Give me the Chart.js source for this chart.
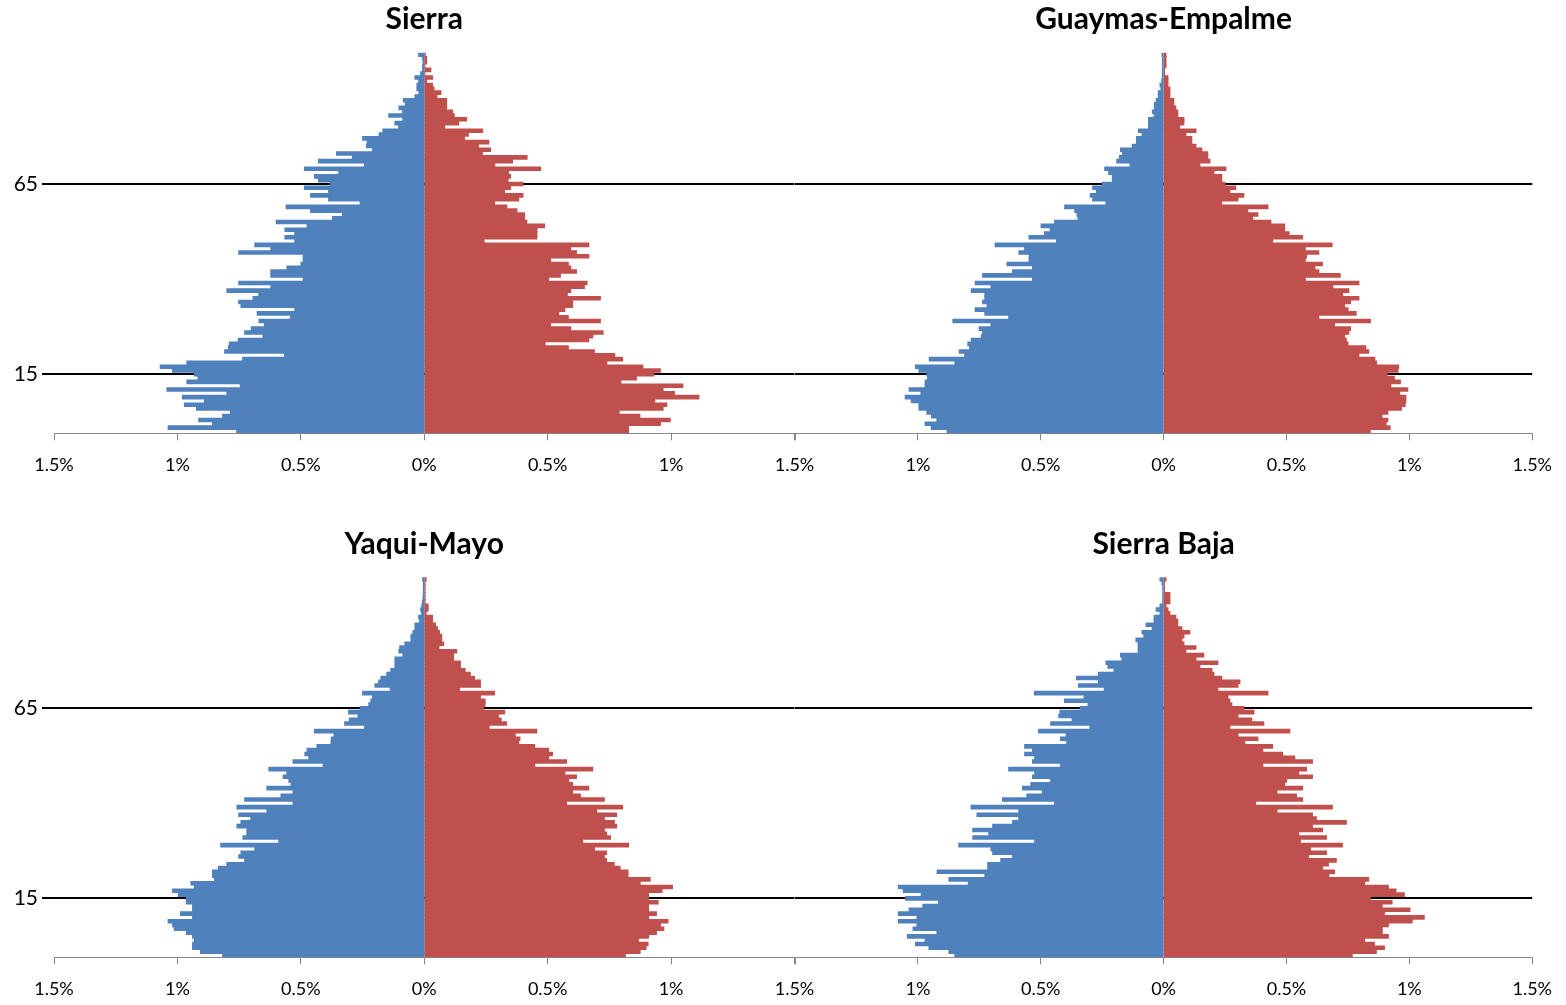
<!DOCTYPE html>
<html>
<head>
<meta charset="utf-8">
<title>Pirámides de población</title>
<script src="https://cdn.jsdelivr.net/npm/chart.js@4.4.1/dist/chart.umd.min.js"></script>
<style>
  html, body { margin: 0; padding: 0; background: #ffffff; }
  body { position: relative; width: 1566px; height: 1005px; overflow: hidden; }
  canvas { position: absolute; }
</style>
</head>
<body>
<canvas id="pSierra" width="830" height="484" style="left:0px;top:0px"></canvas>
<canvas id="pGuaymas" width="796" height="484" style="left:770px;top:0px"></canvas>
<canvas id="pYaqui" width="830" height="484" style="left:0px;top:524px"></canvas>
<canvas id="pSierraBaja" width="796" height="484" style="left:770px;top:524px"></canvas>
<script>
// Single-year age groups, 0 at the bottom of each pyramid
const ages = Array.from({ length: 100 }, (_, i) => i);
// Ages marked with a reference line and a tick label
const markedAges = [15, 65];
// Horizontal axis ticks (percent of total population)
const xTicks = [-1.5, -1, -0.5, 0, 0.5, 1, 1.5];

const titles = ['Sierra', 'Guaymas-Empalme', 'Yaqui-Mayo', 'Sierra Baja'];

// Percent of population by single age, ages 0..99
const sierraMale = [
  0.76, 1.038, 0.858, 0.914, 0.817, 0.786, 0.923, 0.972, 0.891, 0.98,
  0.8, 1.043, 0.746, 0.962, 0.917, 0.932, 1.02, 1.07, 0.962, 0.736,
  0.567, 0.809, 0.794, 0.79, 0.754, 0.654, 0.728, 0.701, 0.648, 0.67,
  0.542, 0.677, 0.525, 0.743, 0.752, 0.694, 0.671, 0.8, 0.622, 0.752,
  0.491, 0.622, 0.622, 0.557, 0.5, 0.491, 0.491, 0.752, 0.622, 0.687,
  0.525, 0.565, 0.525, 0.565, 0.475, 0.6, 0.372, 0.332, 0.461, 0.56,
  0.26, 0.388, 0.461, 0.388, 0.486, 0.38, 0.429, 0.445, 0.347, 0.486,
  0.243, 0.429, 0.292, 0.356, 0.21, 0.235, 0.232, 0.25, 0.183, 0.168,
  0.104, 0.119, 0.087, 0.144, 0.088, 0.103, 0.077, 0.085, 0.038, 0.022,
  0.03, 0.03, 0.023, 0.038, 0.015, 0.007, 0.007, 0.005, 0.007, 0.023
];
const sierraFemale = [
  0.828, 0.828, 0.957, 0.997, 0.874, 0.79, 0.968, 0.983, 0.934, 1.113,
  1.014, 0.968, 1.048, 0.797, 0.86, 0.93, 0.957, 0.886, 0.74, 0.804,
  0.772, 0.69, 0.584, 0.49, 0.667, 0.683, 0.725, 0.594, 0.512, 0.714,
  0.584, 0.545, 0.57, 0.601, 0.601, 0.714, 0.58, 0.594, 0.649, 0.66,
  0.504, 0.552, 0.617, 0.594, 0.584, 0.512, 0.667, 0.617, 0.594, 0.667,
  0.243, 0.457, 0.457, 0.457, 0.488, 0.416, 0.407, 0.407, 0.376, 0.335,
  0.285, 0.383, 0.4, 0.326, 0.35, 0.4, 0.34, 0.35, 0.342, 0.472,
  0.286, 0.358, 0.417, 0.236, 0.269, 0.22, 0.262, 0.163, 0.179, 0.237,
  0.083, 0.14, 0.172, 0.122, 0.115, 0.091, 0.091, 0.091, 0.052, 0.068,
  0.04, 0.034, 0.01, 0.034, 0.003, 0.027, 0.003, 0.01, 0.01, 0.005
];
const guaymasMale = [
  0.881, 0.946, 0.971, 0.923, 0.945, 0.964, 0.996, 0.996, 1.027, 1.052,
  0.988, 1.036, 0.971, 0.971, 0.961, 0.964, 0.996, 1.01, 0.85, 0.954,
  0.81, 0.832, 0.79, 0.797, 0.783, 0.742, 0.737, 0.751, 0.703, 0.858,
  0.631, 0.728, 0.767, 0.719, 0.737, 0.728, 0.728, 0.783, 0.703, 0.767,
  0.534, 0.737, 0.615, 0.534, 0.638, 0.548, 0.548, 0.589, 0.566, 0.686,
  0.436, 0.548, 0.485, 0.462, 0.499, 0.444, 0.349, 0.353, 0.362, 0.403,
  0.235, 0.289, 0.299, 0.274, 0.289, 0.25, 0.209, 0.209, 0.224, 0.24,
  0.137, 0.191, 0.18, 0.168, 0.176, 0.128, 0.111, 0.111, 0.088, 0.103,
  0.062, 0.062, 0.062, 0.039, 0.046, 0.038, 0.038, 0.03, 0.022, 0.022,
  0.011, 0.015, 0.008, 0.006, 0.005, 0.005, 0.005, 0.005, 0.005, 0.007
];
const guaymasFemale = [
  0.841, 0.922, 0.906, 0.913, 0.889, 0.913, 0.968, 0.983, 0.986, 0.986,
  0.961, 0.994, 0.925, 0.964, 0.939, 0.91, 0.954, 0.957, 0.867, 0.86,
  0.795, 0.835, 0.823, 0.751, 0.744, 0.737, 0.754, 0.761, 0.696, 0.842,
  0.632, 0.784, 0.751, 0.737, 0.761, 0.795, 0.729, 0.754, 0.689, 0.795,
  0.577, 0.719, 0.632, 0.616, 0.647, 0.577, 0.582, 0.632, 0.577, 0.686,
  0.444, 0.566, 0.511, 0.493, 0.493, 0.437, 0.363, 0.384, 0.343, 0.425,
  0.237, 0.303, 0.327, 0.27, 0.294, 0.25, 0.237, 0.237, 0.205, 0.254,
  0.148, 0.189, 0.18, 0.18, 0.156, 0.132, 0.115, 0.115, 0.091, 0.132,
  0.066, 0.083, 0.083, 0.058, 0.058, 0.05, 0.042, 0.042, 0.026, 0.026,
  0.026, 0.018, 0.018, 0.018, 0.004, 0.004, 0.01, 0.01, 0.01, 0.01
];
const yaquiMale = [
  0.817, 0.907, 0.939, 0.939, 0.932, 0.939, 0.964, 1.013, 1.02, 1.038,
  0.939, 0.988, 0.939, 0.939, 0.964, 0.964, 0.997, 1.02, 0.932, 0.946,
  0.85, 0.858, 0.858, 0.835, 0.8, 0.728, 0.752, 0.743, 0.687, 0.825,
  0.59, 0.735, 0.719, 0.719, 0.759, 0.743, 0.703, 0.752, 0.638, 0.759,
  0.532, 0.728, 0.581, 0.532, 0.638, 0.54, 0.549, 0.572, 0.557, 0.63,
  0.41, 0.532, 0.468, 0.484, 0.475, 0.435, 0.378, 0.377, 0.366, 0.445,
  0.242, 0.323, 0.304, 0.269, 0.307, 0.26, 0.225, 0.217, 0.21, 0.25,
  0.138, 0.2, 0.185, 0.176, 0.152, 0.136, 0.119, 0.119, 0.119, 0.087,
  0.103, 0.1, 0.079, 0.054, 0.054, 0.046, 0.038, 0.038, 0.019, 0.023,
  0.011, 0.015, 0.01, 0.008, 0.005, 0.004, 0.004, 0.004, 0.004, 0.007
];
const yaquiFemale = [
  0.815, 0.875, 0.899, 0.907, 0.868, 0.909, 0.941, 0.971, 0.957, 0.988,
  0.909, 0.941, 0.909, 0.909, 0.948, 0.909, 0.909, 0.964, 1.006, 0.875,
  0.916, 0.826, 0.826, 0.794, 0.77, 0.739, 0.73, 0.739, 0.69, 0.828,
  0.642, 0.755, 0.739, 0.73, 0.78, 0.771, 0.73, 0.78, 0.699, 0.804,
  0.577, 0.73, 0.633, 0.601, 0.667, 0.601, 0.586, 0.617, 0.57, 0.683,
  0.448, 0.577, 0.504, 0.52, 0.504, 0.448, 0.383, 0.388, 0.369, 0.456,
  0.263, 0.334, 0.312, 0.301, 0.326, 0.24, 0.247, 0.247, 0.228, 0.285,
  0.143, 0.228, 0.228, 0.204, 0.187, 0.166, 0.147, 0.147, 0.119, 0.119,
  0.132, 0.06, 0.079, 0.071, 0.071, 0.062, 0.054, 0.046, 0.034, 0.034,
  0.008, 0.016, 0.016, 0.004, 0.004, 0.004, 0.004, 0.004, 0.004, 0.008
];
const sierraBajaMale = [
  0.85, 0.874, 0.955, 1.01, 0.971, 1.043, 0.923, 1.02, 1.004, 1.08,
  1.004, 1.08, 1.036, 0.98, 0.916, 1.05, 0.987, 1.06, 1.08, 0.795,
  0.874, 0.728, 0.922, 0.716, 0.716, 0.663, 0.615, 0.696, 0.703, 0.834,
  0.525, 0.777, 0.712, 0.777, 0.696, 0.615, 0.59, 0.76, 0.59, 0.784,
  0.444, 0.656, 0.557, 0.493, 0.575, 0.541, 0.46, 0.534, 0.525, 0.631,
  0.42, 0.534, 0.525, 0.566, 0.534, 0.566, 0.395, 0.42, 0.397, 0.509,
  0.3, 0.46, 0.373, 0.427, 0.422, 0.34, 0.308, 0.404, 0.324, 0.526,
  0.242, 0.347, 0.266, 0.355, 0.266, 0.202, 0.227, 0.235, 0.17, 0.176,
  0.104, 0.104, 0.104, 0.113, 0.081, 0.088, 0.047, 0.072, 0.039, 0.039,
  0.015, 0.031, 0.015, 0.004, 0.004, 0.004, 0.004, 0.004, 0.007, 0.015
];
const sierraBajaFemale = [
  0.768, 0.866, 0.899, 0.858, 0.818, 0.915, 0.89, 0.89, 0.915, 1.012,
  1.061, 0.899, 1.003, 0.89, 0.93, 0.842, 0.98, 0.946, 0.915, 0.818,
  0.835, 0.673, 0.696, 0.647, 0.671, 0.703, 0.59, 0.663, 0.598, 0.728,
  0.557, 0.663, 0.55, 0.647, 0.606, 0.744, 0.622, 0.606, 0.462, 0.687,
  0.375, 0.566, 0.541, 0.462, 0.566, 0.493, 0.501, 0.606, 0.55, 0.582,
  0.404, 0.606, 0.534, 0.485, 0.404, 0.444, 0.331, 0.384, 0.303, 0.514,
  0.27, 0.408, 0.359, 0.303, 0.368, 0.327, 0.278, 0.27, 0.262, 0.425,
  0.221, 0.303, 0.311, 0.237, 0.205, 0.197, 0.148, 0.221, 0.132, 0.164,
  0.091, 0.132, 0.083, 0.075, 0.083, 0.107, 0.075, 0.058, 0.058, 0.05,
  0.026, 0.018, 0.01, 0.026, 0.026, 0.026, 0.004, 0.004, 0.004, 0.01
];

const MALE_COLOR = '#4F81BD';
const FEMALE_COLOR = '#C0504D';
const FONT = 'Lato, "Open Sans", "Liberation Sans", sans-serif';

function fmtPct(v) {
  return (Math.round(Math.abs(v) * 10) / 10) + '%';
}

// One pyramid: men drawn to the left (negative), women to the right.
// Left-column pyramids carry the age labels; right-column ones share
// the 1.5% boundary with their neighbour, so that label is left out.
function makePyramid(id, title, male, female, leftColumn, rowShift) {
  const ctx = document.getElementById(id).getContext('2d');
  const barStyle = {
    borderWidth: 0,
    barPercentage: 1,
    categoryPercentage: 1,
    inflateAmount: 0.4
  };
  return new Chart(ctx, {
    type: 'bar',
    data: {
      labels: ages,
      datasets: [
        Object.assign({
          label: 'Hombres',
          data: male.map(v => -v),
          backgroundColor: MALE_COLOR
        }, barStyle),
        Object.assign({
          label: 'Mujeres',
          data: female,
          backgroundColor: FEMALE_COLOR
        }, barStyle)
      ]
    },
    options: {
      indexAxis: 'y',
      responsive: false,
      animation: false,
      devicePixelRatio: 1,
      layout: {
        padding: leftColumn
          ? { left: 0, right: 35.5, top: 0, bottom: 0 }
          : { left: 25, right: 31, top: 0, bottom: 0 }
      },
      plugins: {
        legend: { display: false },
        tooltip: { enabled: false },
        title: {
          display: true,
          text: title,
          fullSize: false,
          color: '#000000',
          font: { family: FONT, size: 30, weight: 'bold', lineHeight: 1.2 },
          padding: { top: 1.5 + rowShift, bottom: 15.2 }
        }
      },
      scales: {
        x: {
          type: 'linear',
          min: xTicks[0],
          max: xTicks[xTicks.length - 1],
          stacked: true,
          z: 1,
          afterBuildTicks: scale => {
            scale.ticks = xTicks.map(v => ({ value: v }));
          },
          afterFit: scale => { scale.height = 50.7; },
          border: { display: true, color: '#868686', width: 1 },
          grid: {
            drawOnChartArea: true,
            drawTicks: true,
            tickLength: 7,
            tickColor: '#868686',
            lineWidth: 1,
            color: c => (c.tick && c.tick.value === 0) ? 'rgba(200,210,225,0.75)' : 'rgba(0,0,0,0)'
          },
          ticks: {
            autoSkip: false,
            maxRotation: 0,
            padding: 14,
            color: '#000000',
            font: { family: FONT, size: 18 },
            callback: v => (!leftColumn && v === xTicks[0]) ? '' : fmtPct(v)
          }
        },
        y: {
          type: 'category',
          reverse: true,
          stacked: true,
          z: 1,
          afterFit: scale => { scale.width = leftColumn ? 54 : 0; },
          border: { display: false },
          grid: {
            offset: false,
            drawTicks: leftColumn,
            tickLength: 12,
            lineWidth: 2,
            color: c => markedAges.includes(ages[c.index]) ? '#000000' : 'rgba(0,0,0,0)'
          },
          ticks: {
            display: leftColumn,
            autoSkip: false,
            padding: 4,
            color: '#000000',
            font: { family: FONT, size: 21 },
            callback: (v, i) => markedAges.includes(ages[i]) ? String(ages[i]) : ''
          }
        }
      }
    }
  });
}

makePyramid('pSierra', titles[0], sierraMale, sierraFemale, true, 0);
makePyramid('pGuaymas', titles[1], guaymasMale, guaymasFemale, false, 0);
makePyramid('pYaqui', titles[2], yaquiMale, yaquiFemale, true, 0.5);
makePyramid('pSierraBaja', titles[3], sierraBajaMale, sierraBajaFemale, false, 0.5);
</script>
</body>
</html>
